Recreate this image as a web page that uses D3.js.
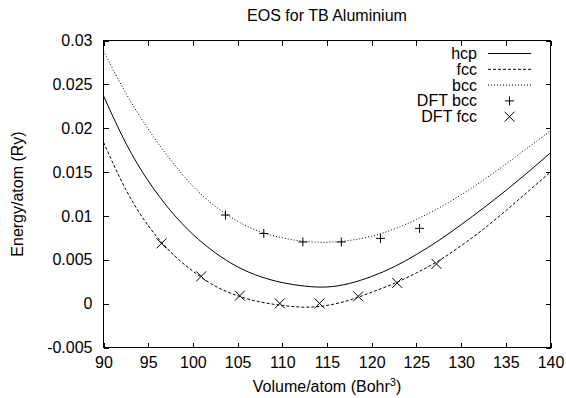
<!DOCTYPE html>
<html>
<head>
<meta charset="utf-8">
<script src="https://cdn.jsdelivr.net/npm/d3@7"></script>
<style>
	body { margin: 0; background: #fff; }
	svg { display: block; font-family: "Liberation Sans", Arial, sans-serif; }
	.axis text { font-size: 16px; fill: #000; }
	.axis line { stroke: #000; }
</style>
</head>
<body>
<svg id="chart" width="566" height="398"></svg>
<script>
// EOS curves
var volumes = [90, 92.5, 95, 97.5, 100, 102.5, 105, 107.5, 110, 112.5, 115,
	117.5, 120, 122.5, 125, 127.5, 130, 132.5, 135, 137.5, 140];
var hcpEnergy = [0.0237, 0.0183, 0.0140, 0.0106, 0.0079, 0.0058, 0.0042, 0.0031, 0.0024, 0.0020, 0.0019,
	0.0023, 0.0031, 0.0042, 0.0056, 0.0072, 0.0090, 0.0109, 0.0129, 0.0150, 0.0172];
var fccEnergy = [0.0184, 0.0130, 0.0089, 0.0059, 0.0037, 0.0020, 0.0009, 0.0002, -0.0002, -0.0004, -0.0002,
	0.0004, 0.0013, 0.0023, 0.0035, 0.0049, 0.0066, 0.0085, 0.0106, 0.0128, 0.0150];
var bccEnergy = [0.0288, 0.0240, 0.0199, 0.0164, 0.0134, 0.0111, 0.0094, 0.0082, 0.0075, 0.0071, 0.0070,
	0.0072, 0.0077, 0.0085, 0.0096, 0.0109, 0.0124, 0.0141, 0.0159, 0.0178, 0.0197];

// DFT reference points
var dftBccVolume = [103.65, 107.93, 112.3, 116.6, 120.98, 125.35];
var dftBccEnergy = [0.0101, 0.0080, 0.00703, 0.00703, 0.00744, 0.00858];
var dftFccVolume = [96.49, 100.93, 105.25, 109.72, 114.16, 118.49, 122.85, 127.25];
var dftFccEnergy = [0.00687, 0.00311, 0.00091, 0.00003, 0.00003, 0.00083, 0.00236, 0.00453];

var xTicks = [90, 95, 100, 105, 110, 115, 120, 125, 130, 135, 140];
var yTicks = [-0.005, 0, 0.005, 0.01, 0.015, 0.02, 0.025, 0.03];
var yTickLabels = ['-0.005', '0', '0.005', '0.01', '0.015', '0.02', '0.025', '0.03'];

var svg = d3.select('#chart');
var plotLeft = 103.5, plotRight = 550.5, plotTop = 40.5, plotBottom = 347.5;

var x = d3.scaleLinear().domain([90, 140]).range([plotLeft, plotRight]);
var y = d3.scaleLinear().domain([-0.005, 0.03]).range([plotBottom, plotTop]);

svg.append('defs').append('clipPath')
	.attr('id', 'plotclip')
	.append('rect')
	.attr('x', plotLeft).attr('y', plotTop)
	.attr('width', plotRight - plotLeft).attr('height', plotBottom - plotTop);

/*
 * gnuplot style: ticks point inwards and are mirrored on top and right
 */
function tickAxis(g, axis) {
	g.call(axis);
	g.select('.domain').remove();
	g.selectAll('line').attr('shape-rendering', 'crispEdges');
}

svg.append('g')
	.attr('class', 'axis')
	.attr('transform', 'translate(0,' + plotBottom + ')')
	.call(tickAxis, d3.axisBottom(x).tickValues(xTicks).tickFormat(d3.format('d'))
		.tickSizeInner(-5).tickSizeOuter(0).tickPadding(9));

svg.append('g')
	.attr('class', 'axis')
	.attr('transform', 'translate(0,' + plotTop + ')')
	.call(tickAxis, d3.axisTop(x).tickValues(xTicks).tickFormat('')
		.tickSizeInner(-5).tickSizeOuter(0));

svg.append('g')
	.attr('class', 'axis')
	.attr('transform', 'translate(' + plotLeft + ',0)')
	.call(tickAxis, d3.axisLeft(y).tickValues(yTicks)
		.tickFormat(function(d, i) { return yTickLabels[i]; })
		.tickSizeInner(-5).tickSizeOuter(0).tickPadding(11));

svg.append('g')
	.attr('class', 'axis')
	.attr('transform', 'translate(' + plotRight + ',0)')
	.call(tickAxis, d3.axisRight(y).tickValues(yTicks).tickFormat('')
		.tickSizeInner(-5).tickSizeOuter(0));

svg.append('rect')
	.attr('x', plotLeft).attr('y', plotTop)
	.attr('width', plotRight - plotLeft).attr('height', plotBottom - plotTop)
	.attr('shape-rendering', 'crispEdges')
	.style('fill', 'none')
	.style('stroke', '#000');

// titles
svg.append('text')
	.attr('x', (plotLeft + plotRight) / 2).attr('y', 21)
	.attr('text-anchor', 'middle')
	.style('font-size', '16px')
	.text('EOS for TB Aluminium');

var xlabel = svg.append('text')
	.attr('x', (plotLeft + plotRight) / 2).attr('y', 392)
	.attr('text-anchor', 'middle')
	.style('font-size', '16px');
xlabel.append('tspan').text('Volume/atom (Bohr');
xlabel.append('tspan').attr('dy', -6).style('font-size', '11px').text('3');
xlabel.append('tspan').attr('dy', 6).text(')');

svg.append('text')
	.attr('transform', 'translate(23,' + ((plotTop + plotBottom) / 2) + ') rotate(-90)')
	.attr('text-anchor', 'middle')
	.style('font-size', '16px')
	.text('Energy/atom (Ry)');

// curves
var series = [
	{ name: 'hcp', values: hcpEnergy, dash: null },
	{ name: 'fcc', values: fccEnergy, dash: '3,2' },
	{ name: 'bcc', values: bccEnergy, dash: '1,2' }
];

var line = d3.line()
	.x(function(d) { return x(d[0]); })
	.y(function(d) { return y(d[1]); })
	.curve(d3.curveNatural);

var plot = svg.append('g').attr('clip-path', 'url(#plotclip)');

series.forEach(function(s) {
	plot.append('path')
		.datum(volumes.map(function(v, i) { return [v, s.values[i]]; }))
		.attr('d', line)
		.style('fill', 'none')
		.style('stroke', '#000')
		.style('stroke-width', 1)
		.style('stroke-dasharray', s.dash);
});

function plus(g, r) {
	g.append('path')
		.attr('d', 'M' + (-r) + ',0H' + r + 'M0,' + (-r) + 'V' + r)
		.style('stroke', '#000')
		.style('fill', 'none');
}

function cross(g, r) {
	g.append('path')
		.attr('d', 'M' + (-r) + ',' + (-r) + 'L' + r + ',' + r + 'M' + (-r) + ',' + r + 'L' + r + ',' + (-r))
		.style('stroke', '#000')
		.style('fill', 'none');
}

dftBccVolume.forEach(function(v, i) {
	svg.append('g')
		.attr('transform', 'translate(' + x(v) + ',' + y(dftBccEnergy[i]) + ')')
		.call(plus, 4.5);
});

dftFccVolume.forEach(function(v, i) {
	svg.append('g')
		.attr('transform', 'translate(' + x(v) + ',' + y(dftFccEnergy[i]) + ')')
		.call(cross, 5);
});

// legend
var legendRows = ['hcp', 'fcc', 'bcc', 'DFT bcc', 'DFT fcc'];
var legend = svg.append('g');

legendRows.forEach(function(label, i) {
	var cy = 53.5 + i * 15.8;
	legend.append('text')
		.attr('x', 477).attr('y', cy + 5.5)
		.attr('text-anchor', 'end')
		.style('font-size', '16px')
		.text(label);
	if (i < 3) {
		legend.append('line')
			.attr('x1', 488).attr('y1', cy)
			.attr('x2', 531).attr('y2', cy)
			.style('stroke', '#000')
			.style('stroke-dasharray', series[i].dash);
	} else {
		legend.append('g')
			.attr('transform', 'translate(509.5,' + cy + ')')
			.call(i === 3 ? plus : cross, i === 3 ? 4.5 : 5);
	}
});
</script>
</body>
</html>
